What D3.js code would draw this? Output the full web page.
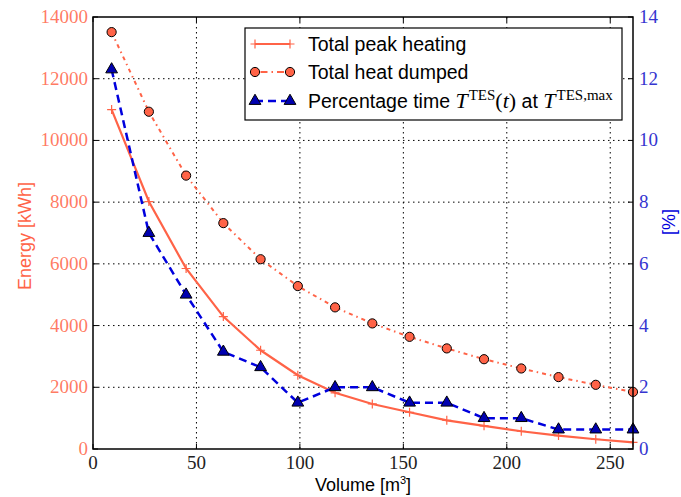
<!DOCTYPE html>
<html>
<head>
<meta charset="utf-8">
<script src="https://cdn.jsdelivr.net/npm/d3@7"></script>
<style>
  body { margin: 0; background: #fff; }
  svg { display: block; }
</style>
</head>
<body>
<svg id="chart" width="681" height="497"></svg>
<script>
// values
const volumes = [9, 27, 45, 63, 81, 99, 117, 135, 153, 171, 189, 207, 225, 243, 261];
const peakHeating = [11000, 8020, 5850, 4290, 3200, 2390, 1820, 1460, 1190, 930, 750, 575, 435, 315, 215];
const heatDumped = [13510, 10930, 8860, 7320, 6150, 5280, 4590, 4070, 3635, 3260, 2910, 2610, 2330, 2080, 1850];
const pctTimeAtMax = [12.3, 7.0, 5.0, 3.15, 2.65, 1.5, 2.0, 2.0, 1.5, 1.5, 1.0, 1.0, 0.63, 0.63, 0.63];

const xTicks = [0, 50, 100, 150, 200, 250];
const energyTicks = [0, 2000, 4000, 6000, 8000, 10000, 12000, 14000];
const pctTicks = [0, 2, 4, 6, 8, 10, 12, 14];

const tomato = '#ff6347';
const blue = '#0000dd';
const serif = '"Liberation Serif", "DejaVu Serif", serif';
const sans = '"Liberation Sans", Arial, sans-serif';

const svg = d3.select('#chart');
const m = { left: 93, right: 633, top: 17, bottom: 449 };

const x = d3.scaleLinear().domain([0, 261]).range([m.left, m.right]);
const yE = d3.scaleLinear().domain([0, 14000]).range([m.bottom, m.top]);
const yP = d3.scaleLinear().domain([0, 14]).range([m.bottom, m.top]);

// grid
const grid = svg.append('g').attr('stroke', '#000').attr('stroke-width', 1)
  .attr('stroke-dasharray', '1.5,3.5');
xTicks.filter((t) => t > 0).forEach((t) => {
  grid.append('line').attr('x1', x(t)).attr('x2', x(t)).attr('y1', m.top).attr('y2', m.bottom);
});
energyTicks.filter((t) => t > 0 && t < 14000).forEach((t) => {
  grid.append('line').attr('x1', m.left).attr('x2', m.right).attr('y1', yE(t)).attr('y2', yE(t));
});

// inward ticks on all four sides
const ticks = svg.append('g').attr('stroke', '#000').attr('stroke-width', 1);
xTicks.forEach((t) => {
  ticks.append('line').attr('x1', x(t)).attr('x2', x(t)).attr('y1', m.bottom).attr('y2', m.bottom - 5);
  ticks.append('line').attr('x1', x(t)).attr('x2', x(t)).attr('y1', m.top).attr('y2', m.top + 5);
});
energyTicks.forEach((t) => {
  ticks.append('line').attr('x1', m.left).attr('x2', m.left + 5).attr('y1', yE(t)).attr('y2', yE(t));
});
pctTicks.forEach((t) => {
  ticks.append('line').attr('x1', m.right).attr('x2', m.right - 5).attr('y1', yP(t)).attr('y2', yP(t));
});

// tick labels
svg.append('g').selectAll('text').data(xTicks).enter().append('text')
  .attr('x', (t) => x(t)).attr('y', m.bottom + 20)
  .attr('text-anchor', 'middle').attr('font-family', serif).attr('font-size', 19)
  .attr('fill', '#222').text((t) => t);
svg.append('g').selectAll('text').data(energyTicks).enter().append('text')
  .attr('x', m.left - 5).attr('y', (t) => yE(t) + 6)
  .attr('text-anchor', 'end').attr('font-family', serif).attr('font-size', 19)
  .attr('fill', tomato).attr('fill-opacity', 0.85).text((t) => t);
svg.append('g').selectAll('text').data(pctTicks).enter().append('text')
  .attr('x', m.right + 6).attr('y', (t) => yP(t) + 6)
  .attr('text-anchor', 'start').attr('font-family', serif).attr('font-size', 19)
  .attr('fill', '#3535d0').text((t) => t);

// series
const line = (yScale, vals) => d3.line().x((d, i) => x(volumes[i])).y((d) => yScale(d))(vals);

svg.append('path').attr('d', line(yE, heatDumped)).attr('fill', 'none')
  .attr('stroke', tomato).attr('stroke-width', 2).attr('stroke-dasharray', '4,4,1.5,4');
svg.append('path').attr('d', line(yE, peakHeating)).attr('fill', 'none')
  .attr('stroke', tomato).attr('stroke-width', 2.2);
svg.append('path').attr('d', line(yP, pctTimeAtMax)).attr('fill', 'none')
  .attr('stroke', blue).attr('stroke-width', 2.5).attr('stroke-dasharray', '8,5');

const plusPath = 'M-4.5,0H4.5M0,-4.5V4.5';
const triPath = d3.symbol().type(d3.symbolTriangle).size(60)();

svg.append('g').selectAll('path').data(peakHeating).enter().append('path')
  .attr('d', plusPath).attr('transform', (d, i) => `translate(${x(volumes[i])},${yE(d)})`)
  .attr('stroke', tomato).attr('stroke-width', 1.2);
svg.append('g').selectAll('circle').data(heatDumped).enter().append('circle')
  .attr('cx', (d, i) => x(volumes[i])).attr('cy', (d) => yE(d)).attr('r', 4.6)
  .attr('fill', tomato).attr('stroke', '#000').attr('stroke-width', 1);
svg.append('g').selectAll('path').data(pctTimeAtMax).enter().append('path')
  .attr('d', triPath).attr('transform', (d, i) => `translate(${x(volumes[i])},${yP(d)})`)
  .attr('fill', '#0000b0').attr('stroke', '#000').attr('stroke-width', 1);

// frame
svg.append('rect').attr('x', m.left).attr('y', m.top)
  .attr('width', m.right - m.left).attr('height', m.bottom - m.top)
  .attr('fill', 'none').attr('stroke', '#000').attr('stroke-width', 1.5);

// axis titles
svg.append('text').attr('x', 363).attr('y', 491)
  .attr('text-anchor', 'middle').attr('font-family', sans).attr('font-size', 18)
  .html('Volume [m<tspan font-size="11" dy="-7">3</tspan><tspan dy="7">]</tspan>');
svg.append('text').attr('transform', `translate(31,236) rotate(-90)`)
  .attr('text-anchor', 'middle').attr('font-family', sans).attr('font-size', 18)
  .attr('fill', tomato).text('Energy [kWh]');
svg.append('text').attr('transform', `translate(675,222) rotate(-90)`)
  .attr('text-anchor', 'middle').attr('font-family', sans).attr('font-size', 18)
  .attr('fill', blue).text('[%]');

// legend
const lg = svg.append('g');
lg.append('rect').attr('x', 245).attr('y', 28).attr('width', 377).attr('height', 92)
  .attr('fill', '#fff').attr('stroke', '#000').attr('stroke-width', 1.2);
const rows = [44, 72, 101];
lg.append('line').attr('x1', 255).attr('x2', 290).attr('y1', rows[0]).attr('y2', rows[0])
  .attr('stroke', tomato).attr('stroke-width', 2.2);
[255, 290].forEach((px) => {
  lg.append('path').attr('d', plusPath).attr('transform', `translate(${px},${rows[0]})`)
    .attr('stroke', tomato).attr('stroke-width', 1.2);
});
lg.append('line').attr('x1', 255).attr('x2', 290).attr('y1', rows[1]).attr('y2', rows[1])
  .attr('stroke', tomato).attr('stroke-width', 2).attr('stroke-dasharray', '1.5,4,7,4');
[255, 290].forEach((px) => {
  lg.append('circle').attr('cx', px).attr('cy', rows[1]).attr('r', 4.6)
    .attr('fill', tomato).attr('stroke', '#000');
});
lg.append('line').attr('x1', 255).attr('x2', 290).attr('y1', rows[2]).attr('y2', rows[2])
  .attr('stroke', blue).attr('stroke-width', 2.5).attr('stroke-dasharray', '8,5');
[255, 290].forEach((px) => {
  lg.append('path').attr('d', triPath).attr('transform', `translate(${px},${rows[2]})`)
    .attr('fill', '#0000b0').attr('stroke', '#000');
});

const labelAttrs = (t, yy) => t.attr('x', 308).attr('y', yy + 7)
  .attr('font-family', sans).attr('font-size', 19.5).attr('fill', '#000');
labelAttrs(lg.append('text'), rows[0]).text('Total peak heating');
labelAttrs(lg.append('text'), rows[1]).text('Total heat dumped');
labelAttrs(lg.append('text'), rows[2]).html(
  'Percentage time ' +
  `<tspan font-family='${serif}' font-style="italic" font-size="22">T</tspan>` +
  `<tspan font-family='${serif}' font-size="15" dy="-8" dx="1">TES</tspan>` +
  `<tspan font-family='${serif}' font-size="22" dy="8">(<tspan font-style="italic">t</tspan>)</tspan>` +
  ' at ' +
  `<tspan font-family='${serif}' font-style="italic" font-size="22">T</tspan>` +
  `<tspan font-family='${serif}' font-size="15" dy="-8" dx="1">TES,max</tspan>`
);
</script>
</body>
</html>
